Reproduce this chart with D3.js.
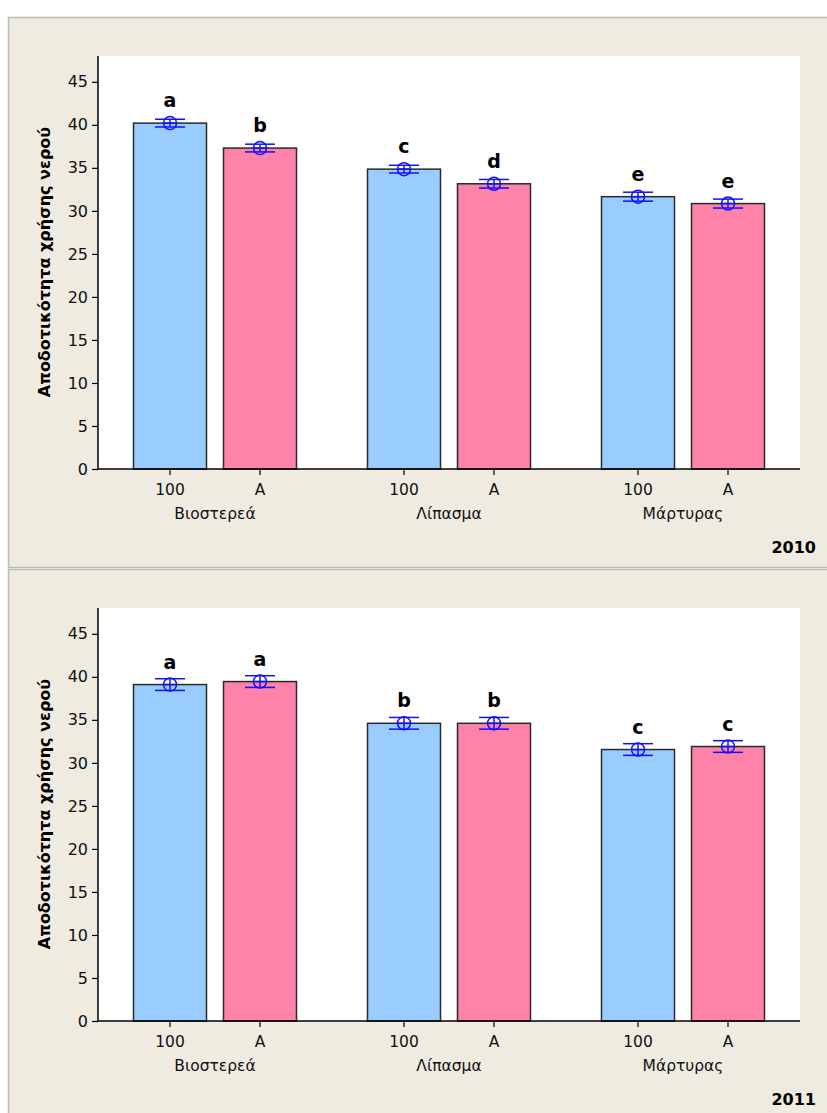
<!DOCTYPE html>
<html><head><meta charset="utf-8">
<script src="https://cdn.jsdelivr.net/npm/d3@7/dist/d3.min.js"></script>
<style>
body{margin:0;background:#fff;}
text{font-family:"DejaVu Sans",sans-serif;}
</style></head>
<body><svg id="c" width="827" height="1113"></svg>
<script>
const groups = ["Βιοστερεά", "Λίπασμα", "Μάρτυρας"];
const treatments = ["100", "A"];
const years = ["2010", "2011"];
const means2010 = [40.2, 37.3, 34.85, 33.15, 31.65, 30.85];
const errs2010 = [0.45, 0.45, 0.45, 0.5, 0.52, 0.52];
const letters2010 = ["a", "b", "c", "d", "e", "e"];
const means2011 = [39.1, 39.45, 34.6, 34.6, 31.55, 31.9];
const errs2011 = [0.68, 0.68, 0.68, 0.68, 0.68, 0.68];
const letters2011 = ["a", "a", "b", "b", "c", "c"];
const yTicks = [0, 5, 10, 15, 20, 25, 30, 35, 40, 45];
const yTitle = "Αποδοτικότητα χρήσης νερού";

const panels = [
  {year: years[0], means: means2010, errs: errs2010, letters: letters2010},
  {year: years[1], means: means2011, errs: errs2011, letters: letters2011}
];

const svg = d3.select("#c");
const blue = "#99CCFF", pink = "#FF82A8", colors = [blue, pink];
const errColor = "#1010FF";

const x0 = d3.scaleBand().domain(groups).range([98, 800]).padding(0);
const x1 = d3.scalePoint().domain(treatments).range([-45, 45]);
const barW = 73;

panels.forEach((p, i) => {
  const dy = i * 552;
  const g = svg.append("g").attr("transform", `translate(0,${dy})`);
  g.append("rect").attr("x", 8.5).attr("y", 17.5).attr("width", 840).attr("height", i === 0 ? 550 : 600)
    .attr("fill", "#EFEBE1").attr("stroke", "#BDBBB6").attr("stroke-width", 1.5);
  g.append("rect").attr("x", 98).attr("y", 56).attr("width", 702).attr("height", 413).attr("fill", "#fff");

  const y = d3.scaleLinear().domain([0, 48]).range([469, 56]);

  const rows = [];
  groups.forEach((gr, gi) => treatments.forEach((t, ti) => {
    const k = gi * 2 + ti;
    rows.push({g: gr, t, ti, m: p.means[k], e: p.errs[k], l: p.letters[k]});
  }));
  const cx = d => x0(d.g) + x0.bandwidth() / 2 + x1(d.t);

  g.selectAll(".bar").data(rows).join("rect")
    .attr("x", d => cx(d) - barW / 2).attr("y", d => y(d.m))
    .attr("width", barW).attr("height", d => y(0) - y(d.m))
    .attr("fill", d => colors[d.ti]).attr("stroke", "#2a2a2a").attr("stroke-width", 1.5);

  // axes
  const yAxis = d3.axisLeft(y).tickValues(yTicks).tickSize(6).tickPadding(4);
  const ya = g.append("g").attr("transform", "translate(98,0)").call(yAxis);
  ya.select(".domain").attr("d", `M0,56V469`).attr("stroke", "#000").attr("stroke-width", 1.5);
  ya.selectAll(".tick line").attr("stroke", "#000").attr("stroke-width", 1.2);
  ya.selectAll("text").attr("font-size", 16).attr("fill", "#111")
    .style("font-family", '"DejaVu Sans",sans-serif');

  g.append("line").attr("x1", 98).attr("x2", 800).attr("y1", y(0)).attr("y2", y(0))
    .attr("stroke", "#000").attr("stroke-width", 1.5);

  // x ticks
  g.selectAll(".xt").data(rows).join("line")
    .attr("x1", cx).attr("x2", cx).attr("y1", y(0)).attr("y2", y(0) + 6)
    .attr("stroke", "#000").attr("stroke-width", 1.2);
  g.selectAll(".xl").data(rows).join("text")
    .attr("x", cx).attr("y", 495).attr("text-anchor", "middle")
    .attr("font-size", 15.5).attr("fill", "#111").text(d => d.t);
  g.selectAll(".gl").data(groups).join("text")
    .attr("x", d => x0(d) + x0.bandwidth() / 2).attr("y", 519).attr("text-anchor", "middle")
    .attr("font-size", 15.5).attr("fill", "#111").text(d => d);

  // error bars
  const eb = g.selectAll(".eb").data(rows).join("g").attr("stroke", errColor).attr("stroke-width", 1.5).attr("fill", "none");
  eb.append("line").attr("x1", cx).attr("x2", cx).attr("y1", d => y(d.m + d.e)).attr("y2", d => y(d.m - d.e));
  eb.append("line").attr("x1", d => cx(d) - 15).attr("x2", d => cx(d) + 15).attr("y1", d => y(d.m + d.e)).attr("y2", d => y(d.m + d.e));
  eb.append("line").attr("x1", d => cx(d) - 15).attr("x2", d => cx(d) + 15).attr("y1", d => y(d.m - d.e)).attr("y2", d => y(d.m - d.e));
  eb.append("circle").attr("cx", cx).attr("cy", d => y(d.m)).attr("r", 6.5);
  eb.append("line").attr("x1", d => cx(d) - 6.5).attr("x2", d => cx(d) + 6.5).attr("y1", d => y(d.m)).attr("y2", d => y(d.m));

  g.selectAll(".lt").data(rows).join("text")
    .attr("x", cx).attr("y", d => y(d.m) - 16).attr("text-anchor", "middle")
    .attr("font-size", 19).attr("font-weight", "bold").attr("fill", "#000").text(d => d.l);

  g.append("text").attr("transform", `translate(50,262) rotate(-90)`).attr("text-anchor", "middle")
    .attr("font-size", 16).attr("font-weight", "bold").attr("fill", "#000").text(yTitle);

  g.append("text").attr("x", 816).attr("y", 553).attr("text-anchor", "end")
    .attr("font-size", 16).attr("font-weight", "bold").attr("fill", "#000").text(p.year);
});
</script></body></html>
